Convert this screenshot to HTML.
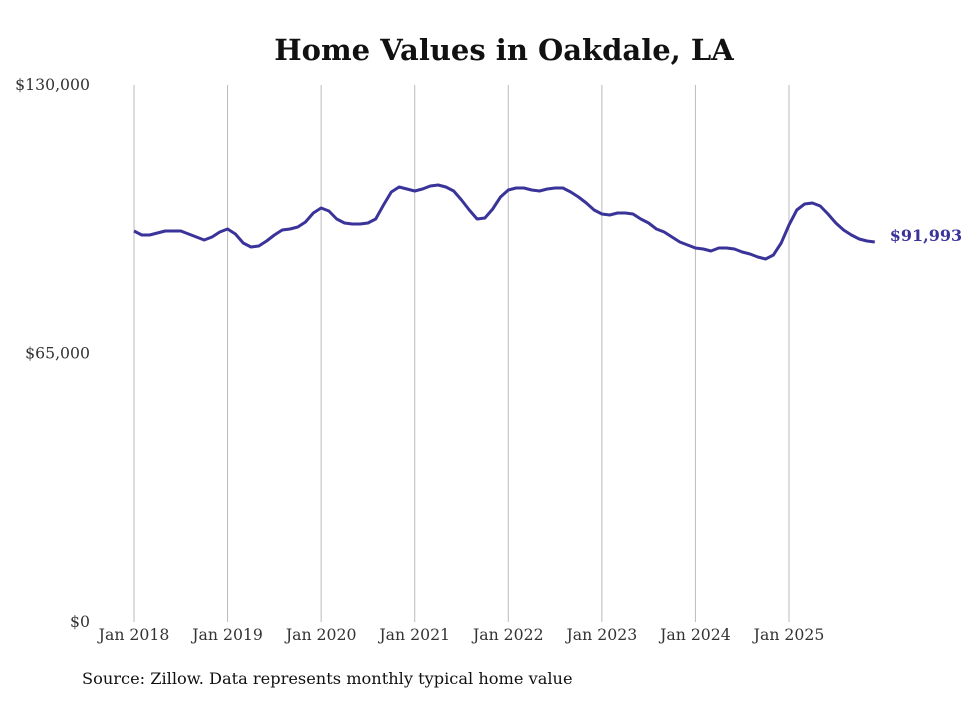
<!DOCTYPE html>
<html><head><meta charset="utf-8"><style>
body{margin:0;background:#fff;width:980px;height:699px;overflow:hidden;font-family:"DejaVu Serif","Liberation Serif",serif}
</style></head><body>
<svg width="980" height="699" font-family="DejaVu Serif, Liberation Serif, serif">
<text x="504" y="60" text-anchor="middle" font-size="29" font-weight="bold" fill="#111">Home Values in Oakdale, LA</text>
<g id="grid"></g>
<g id="yax"></g>
<g id="xax"></g>
<path id="line" fill="none" stroke="#3a3399" stroke-width="3" stroke-linejoin="round"/>
<text id="endlbl" font-size="16" font-weight="bold" fill="#3a3399"></text>
<text x="82" y="684" font-size="16.2" fill="#111">Source: Zillow. Data represents monthly typical home value</text>
</svg>
<script>
const yTicks=[0,65000,130000];
const yTickLabels=["$0","$65,000","$130,000"];
const xTickYears=[2018,2019,2020,2021,2022,2023,2024,2025];
const xTickLabels=["Jan 2018","Jan 2019","Jan 2020","Jan 2021","Jan 2022","Jan 2023","Jan 2024","Jan 2025"];
const startYear=2018;
const values=[
94.65,93.68,93.68,94.17,94.65,94.65,94.65,93.92,93.20,92.47,93.20,94.41,
95.13,93.92,91.74,90.78,91.02,92.23,93.68,94.89,95.13,95.62,96.83,99.01,
100.22,99.49,97.55,96.59,96.34,96.34,96.59,97.55,100.94,104.09,105.30,104.82,
104.33,104.82,105.54,105.78,105.30,104.33,102.15,99.73,97.55,97.80,99.97,102.88,
104.57,105.06,105.06,104.57,104.33,104.82,105.06,105.06,104.09,102.88,101.43,99.73,
98.76,98.52,99.01,99.01,98.76,97.55,96.59,95.13,94.41,93.20,92.00,91.26,
90.53,90.29,89.81,90.53,90.53,90.29,89.57,89.08,88.36,87.87,88.84,91.74,
96.10,99.73,101.18,101.43,100.70,98.76,96.59,94.89,93.68,92.71,92.23,91.993
].map(v=>v*1000);
const lastLabel="$91,993";
const NS="http://www.w3.org/2000/svg";
const x=m=>134+m*(655/84);
const y=v=>622-v*(537/130000);
const grid=document.getElementById('grid'),yax=document.getElementById('yax'),xax=document.getElementById('xax');
xTickYears.forEach((yr,i)=>{
 const l=document.createElementNS(NS,'line');
 
 
 const xx=x((yr-startYear)*12);
 l.setAttribute('x1',xx);l.setAttribute('x2',xx);l.setAttribute('y1',85);l.setAttribute('y2',622);
 l.setAttribute('stroke','#bbb');l.setAttribute('stroke-width','1');grid.appendChild(l);
 const t=document.createElementNS(NS,'text');
 
 
 t.setAttribute('x',xx);t.setAttribute('y',640);t.setAttribute('text-anchor','middle');
 t.setAttribute('font-size','15.7');t.setAttribute('fill','#333');t.textContent=xTickLabels[i];xax.appendChild(t);
});
yTicks.forEach((v,i)=>{
 const t=document.createElementNS(NS,'text');
 
 
 t.setAttribute('x',90);t.setAttribute('y',y(v)+5);t.setAttribute('text-anchor','end');
 t.setAttribute('font-size','15.7');t.setAttribute('fill','#333');t.textContent=yTickLabels[i];yax.appendChild(t);
});
document.getElementById('line').setAttribute('d',values.map((v,i)=>(i?'L':'M')+x(i).toFixed(1)+','+y(v).toFixed(1)).join(''));
const n=values.length-1,el=document.getElementById('endlbl');
el.setAttribute('x',x(n)+15);el.setAttribute('y',y(values[n])-1);el.textContent=lastLabel;
</script>
</body></html>
